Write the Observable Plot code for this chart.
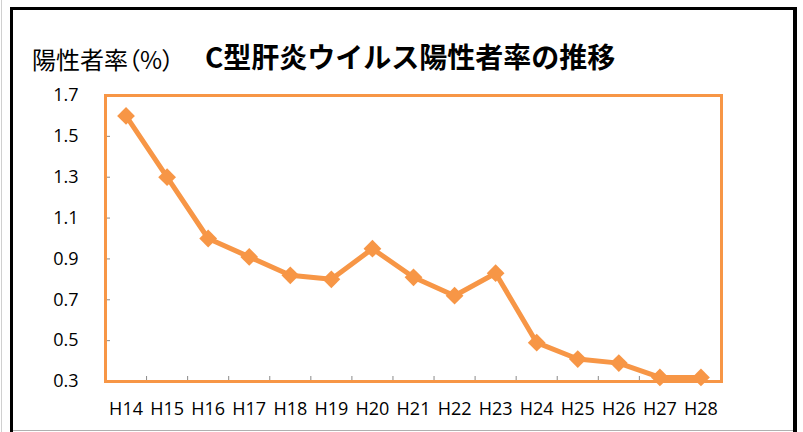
<!DOCTYPE html>
<html>
<head>
<meta charset="utf-8">
<script src="https://cdn.jsdelivr.net/npm/d3@7"></script>
<script src="https://cdn.jsdelivr.net/npm/@observablehq/plot@0.6"></script>
<style>
  html, body { margin: 0; padding: 0; background: #fff; }
  #wrap { position: relative; width: 803px; height: 432px; overflow: hidden; background: #fff; }
  #wrap svg { position: absolute; left: 0; top: 0; }
  .border { position: absolute; left: 10px; top: 7px; width: 780px; height: 440px;
            border-left: 3px solid #000; border-top: 3px solid #000; border-right: 4px solid #000; }
  .bottomline { position: absolute; left: 13px; top: 430px; width: 780px; height: 1px; background: #b0b0b0; }
  .leftline { position: absolute; left: 1px; top: 0; width: 1px; height: 432px; background: #d0d0d0; }
  .title { position: absolute; left: 205px; top: 42px; font-family: "Noto Sans CJK JP", sans-serif;
           font-weight: bold; font-size: 28px; line-height: 28px; color: #000; white-space: nowrap; }
  .ylab { position: absolute; left: 32px; top: 47px; font-family: "Noto Sans CJK JP", sans-serif;
          font-size: 24px; line-height: 24px; color: #000; white-space: nowrap; }
  .ylab .p { font-feature-settings: "palt"; }
</style>
</head>
<body>
<div id="wrap">
  <div class="leftline"></div>
  <div class="border"></div>
  <div class="bottomline"></div>
  <div class="ylab">陽性者率<span class="p">（%）</span></div>
  <div class="title">C型肝炎ウイルス陽性者率の推移</div>
</div>
<script>
const categories = ["H14","H15","H16","H17","H18","H19","H20","H21","H22","H23","H24","H25","H26","H27","H28"];
const values = [1.60, 1.30, 1.00, 0.91, 0.82, 0.80, 0.95, 0.81, 0.72, 0.83, 0.49, 0.41, 0.39, 0.32, 0.32];
const yTicks = [0.3, 0.5, 0.7, 0.9, 1.1, 1.3, 1.5, 1.7];

const data = categories.map((c, i) => ({i, c, v: values[i]}));
const idx = categories.map((c, i) => i);
const bounds = categories.map((c, i) => i - 0.5).concat([categories.length - 0.5]);
const orange = "#F79646";

const chart = Plot.plot({
  width: 803,
  height: 432,
  marginLeft: 105,
  marginRight: 82,
  marginTop: 95,
  marginBottom: 51,
  x: {type: "linear", domain: [-0.5, categories.length - 0.5], label: null},
  y: {domain: [0.3, 1.7], label: null},
  style: {fontFamily: "'Open Sans', sans-serif", fontSize: "18px", color: "#000", background: "transparent"},
  marks: [
    Plot.axisY(yTicks, {tickSize: 5, dx: 5, tickFormat: () => "", stroke: "#8a8a8a", label: null}),
    Plot.axisX(bounds, {tickSize: 5, dy: -5, tickFormat: () => "", stroke: "#8a8a8a", label: null}),
    Plot.axisY(yTicks, {tickSize: 0, tickPadding: 27, tickFormat: d => d.toFixed(1), fontSize: 18, fill: "#000", label: null}),
    Plot.axisX(idx, {tickSize: 0, tickPadding: 21, tickFormat: i => categories[i], fontSize: 18, fill: "#000", label: null}),
    Plot.frame({stroke: orange, strokeWidth: 3}),
    Plot.line(data, {x: "i", y: "v", stroke: orange, strokeWidth: 5}),
    Plot.dot(data, {x: "i", y: "v", symbol: "diamond2", r: 8, fill: orange, stroke: null})
  ]
});
document.getElementById("wrap").prepend(chart);
</script>
</body>
</html>
